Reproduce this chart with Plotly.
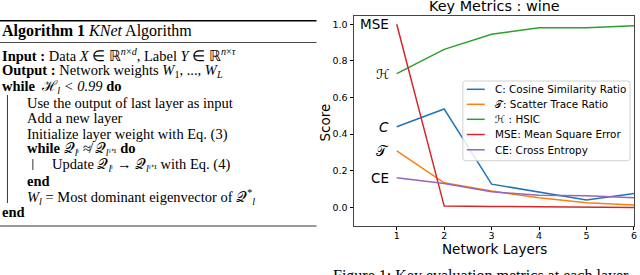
import plotly.graph_objects as go

W, H = 640, 275

# ---------------- data ----------------
layers = [1, 2, 3, 4, 5, 6]
cosine = [0.44, 0.537, 0.127, 0.083, 0.04, 0.076]
scatter = [0.309, 0.134, 0.089, 0.052, 0.025, 0.013]
hsic = [0.73, 0.863, 0.945, 0.981, 0.981, 0.992]
mse = [1.0, 0.007, 0.005, 0.004, 0.002, 0.0]
ce = [0.162, 0.131, 0.085, 0.066, 0.063, 0.052]

series_names = ["C: Cosine Similarity Ratio", "𝒯: Scatter Trace Ratio", "ℋ : HSIC",
                "MSE: Mean Square Error", "CE: Cross Entropy"]
series_values = [cosine, scatter, hsic, mse, ce]
series_labels = ["<i>C</i>", "𝒯", "ℋ", "MSE", "CE"]
colors = ["#1f77b4", "#ff7f0e", "#2ca02c", "#d62728", "#9467bd"]
yticks = [0.0, 0.2, 0.4, 0.6, 0.8, 1.0]
xticks = [1, 2, 3, 4, 5, 6]

algo_lines = [
    ("<b>Input :</b> Data <i>X</i> ∈ ℝ<sup><i>n</i>×<i>d</i></sup>, Label <i>Y</i> ∈ ℝ<sup><i>n</i>×<i>τ</i></sup>", 0, 55.5),
    ("<b>Output :</b> Network weights <i>W</i><sub>1</sub>, ..., <i>W</i><sub><i>L</i></sub>", 0, 71),
    ("<b>while</b>  ℋ<sub><i>l</i></sub> <i>&lt; 0.99</i> <b>do</b>", 0, 86.5),
    ("Use the output of last layer as input", 25, 102.5),
    ("Add a new layer", 25, 118),
    ("Initialize layer weight with Eq. (3)", 25, 134),
    ("<b>while</b> 𝒬<sub><i>l</i>ⁱ</sub> ≉ 𝒬<sub><i>l</i>ⁱ⁺¹</sub> <b>do</b>", 25, 149.5),
    ("Update 𝒬<sub><i>l</i>ⁱ</sub> → 𝒬<sub><i>l</i>ⁱ⁺¹</sub> with Eq. (4)", 50, 165),
    ("<b>end</b>", 25, 180.5),
    ("<i>W<sub>l</sub></i> = Most dominant eigenvector of 𝒬<sup>*</sup><sub><i>l</i></sub>", 25, 196.5),
    ("<b>end</b>", 0, 212),
]


def px(x):
    return x / W


def py(y):
    return 1 - y / H


fig = go.Figure()
for name, vals, col in zip(series_names, series_values, colors):
    fig.add_trace(go.Scatter(x=layers, y=vals, mode="lines", name=name,
                             line=dict(color=col, width=1.5), showlegend=False))

ax_left, ax_right, ax_top, ax_bot = 355.7, 637.2, 16.0, 225.7

fig.update_layout(
    width=W, height=H, margin=dict(l=0, r=0, t=0, b=0),
    paper_bgcolor="white", plot_bgcolor="white",
    xaxis=dict(domain=[px(ax_left), px(ax_right)], range=[0.1, 6.005],
               tickvals=xticks, ticks="outside", ticklen=3.5, tickwidth=0.8, tickcolor="black",
               showline=True, linecolor="#444", linewidth=1, mirror=True,
               showgrid=False, zeroline=False, ticklabelstandoff=-3,
               tickfont=dict(family="DejaVu Sans", size=9.5, color="black")),
    yaxis=dict(domain=[py(ax_bot), py(ax_top)], range=[-0.1, 1.045],
               tickvals=yticks, tickformat=".1f", ticks="outside", ticklen=3.5, tickwidth=0.8,
               tickcolor="black", showline=True, linecolor="#444", linewidth=1, mirror=True,
               showgrid=False, zeroline=False,
               tickfont=dict(family="DejaVu Sans", size=9.5, color="black")),
)

ann = []
sans = "DejaVu Sans"
serif = "Liberation Serif"
# chart title & axis titles
ann.append(dict(text="Key Metrics : wine", x=px(496.7), y=py(5.5), xref="paper", yref="paper",
                xanchor="center", yanchor="middle", showarrow=False,
                font=dict(family=sans, size=14.4, color="black")))
ann.append(dict(text="Network Layers", x=px(496.5), y=py(248.5), xref="paper", yref="paper",
                xanchor="center", yanchor="middle", showarrow=False,
                font=dict(family=sans, size=13.5, color="black")))
ann.append(dict(text="Score", x=px(327), y=py(122), xref="paper", yref="paper",
                xanchor="center", yanchor="middle", showarrow=False, textangle=-90,
                font=dict(family=sans, size=13.5, color="black")))
# in-plot series labels
for lab, vals in zip(series_labels, series_values):
    ann.append(dict(text=lab, x=0.87, y=vals[0], xref="x", yref="y",
                    xanchor="right", yanchor="middle", showarrow=False,
                    font=dict(family=sans, size=13.5, color="black")))

# manual legend
shapes = []
lx0, ly0, lx1, ly1 = 465, 81, 633, 160.7
r = 2.5
path = (f"M {px(lx0 + r)} {py(ly0)} L {px(lx1 - r)} {py(ly0)} Q {px(lx1)} {py(ly0)} {px(lx1)} {py(ly0 + r)} "
        f"L {px(lx1)} {py(ly1 - r)} Q {px(lx1)} {py(ly1)} {px(lx1 - r)} {py(ly1)} "
        f"L {px(lx0 + r)} {py(ly1)} Q {px(lx0)} {py(ly1)} {px(lx0)} {py(ly1 - r)} "
        f"L {px(lx0)} {py(ly0 + r)} Q {px(lx0)} {py(ly0)} {px(lx0 + r)} {py(ly0)} Z")
shapes.append(dict(type="path", path=path, xref="paper", yref="paper",
                   fillcolor="rgba(255,255,255,0.85)", line=dict(color="#d0d0d0", width=1)))
row_y = [89.3, 104.3, 119.3, 134.5, 149.8]
for name, col, yy in zip(series_names, colors, row_y):
    shapes.append(dict(type="line", xref="paper", yref="paper", x0=px(469), x1=px(487),
                       y0=py(yy), y1=py(yy), line=dict(color=col, width=1.5)))
    ann.append(dict(text=name, x=px(495.7), y=py(yy), xref="paper", yref="paper",
                    xanchor="left", yanchor="middle", showarrow=False,
                    font=dict(family=sans, size=10.4, color="black")))

# caption
ann.append(dict(text="Figure 1: Key evaluation metrics at each layer.", x=px(333), y=py(264.5),
                xref="paper", yref="paper", xanchor="left", yanchor="top", showarrow=False,
                font=dict(family=serif, size=16, color="black")))

# algorithm box
shapes.append(dict(type="line", xref="paper", yref="paper", x0=0, x1=px(318), y0=py(20.7), y1=py(20.7),
                   line=dict(color="black", width=1.6)))
shapes.append(dict(type="line", xref="paper", yref="paper", x0=0, x1=px(318), y0=py(42.5), y1=py(42.5),
                   line=dict(color="#333", width=0.9)))
shapes.append(dict(type="line", xref="paper", yref="paper", x0=0, x1=px(318), y0=py(226), y1=py(226),
                   line=dict(color="#777", width=1.4)))
shapes.append(dict(type="line", xref="paper", yref="paper", x0=px(7.5), x1=px(7.5), y0=py(95), y1=py(203),
                   line=dict(color="#222", width=0.9)))
shapes.append(dict(type="line", xref="paper", yref="paper", x0=px(33), x1=px(33), y0=py(159), y1=py(170),
                   line=dict(color="#222", width=0.9)))
ann.append(dict(text="<b>Algorithm 1</b> <i>KNet</i> Algorithm", x=0, y=py(31.5), xref="paper", yref="paper",
                xanchor="left", yanchor="middle", showarrow=False,
                font=dict(family=serif, size=16, color="black")))
for txt, xx, yy in algo_lines:
    ann.append(dict(text=txt, x=px(xx), y=py(yy), xref="paper", yref="paper",
                    xanchor="left", yanchor="middle", showarrow=False,
                    font=dict(family=serif, size=14.5, color="black")))

fig.update_layout(annotations=ann, shapes=shapes)
fig.write_html("out.html", config={"displayModeBar": False},
               post_script="document.body.style.margin='0';document.body.style.overflow='hidden';")
